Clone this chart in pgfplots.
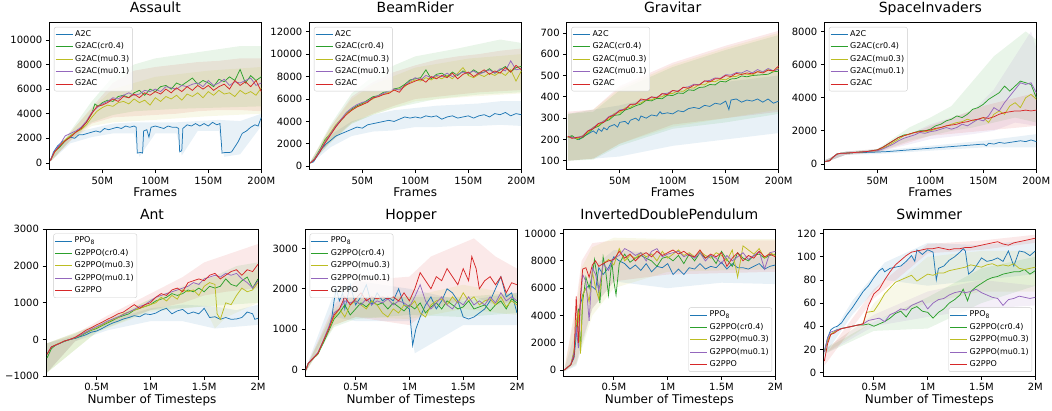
\documentclass[border=0pt]{standalone}
\usepackage{pgfplots}
\pgfplotsset{compat=1.18}
\usepackage{fontspec}
\setmainfont{DejaVu Sans}

\definecolor{c0}{HTML}{1F77B4}
\definecolor{c2}{HTML}{2CA02C}
\definecolor{c8}{HTML}{BCBD22}
\definecolor{c4}{HTML}{9467BD}
\definecolor{c3}{HTML}{D62728}

\pgfplotsset{
  panel/.style={
    scale only axis, width=212pt, height=147pt, anchor=north west,
    axis line style={line width=0.8pt},
    every tick/.style={black, line width=0.8pt},
    major tick length=3.5pt, tick align=outside, tick pos=left,
    ticklabel style={font=\fontsize{10}{12}\selectfont},
    /pgf/number format/assume math mode=true,
    /pgf/number format/1000 sep={},
    scaled ticks=false,
    title style={at={(0.5,1)}, anchor=base, yshift=4pt, font=\fontsize{14}{16}\selectfont},
    xlabel style={at={(axis description cs:0.5,0)}, anchor=base, yshift=-27pt, font=\fontsize{12}{14}\selectfont},
    legend cell align=left,
    legend style={font=\fontsize{8}{9}\selectfont, draw=black!20, rounded corners=2pt,
      fill=white, fill opacity=0.8, text opacity=1, inner sep=1pt, row sep=0pt,
      nodes={text height=6pt, text depth=2pt, inner sep=2.2pt}},
    legend image code/.code={\draw[#1] (0pt,0pt) -- (17pt,0pt);},
    every axis plot/.append style={line width=0.75pt},
  },
  toprow/.style={panel, xmin=0, xmax=200, xtick={50,100,150,200},
    xticklabels={50M,100M,150M,200M}, xlabel={Frames},
    legend style={at={(0.022,0.971)}, anchor=north west}},
  botrow/.style={panel, xmin=0.03, xmax=2, xtick={0.5,1,1.5,2},
    xticklabels={0.5M,1M,1.5M,2M}, xlabel={Number of Timesteps}},
  band/.style={draw=none, fill=#1, fill opacity=0.1, forget plot},
}

\begin{document}
\begin{tikzpicture}
\path[use as bounding box] (0pt,0pt) rectangle (1052pt,-411pt);

% ---------------- Assault
\begin{axis}[toprow, at={(49.3pt,-22.7pt)}, title={Assault},
  ymin=-550, ymax=11400, ytick={0,2000,...,10000}]
\addplot[band=c0] coordinates {(1,300)(20,2400)(40,2800)(60,3200)(80,3300)(100,3300)(120,3300)(140,3400)(160,3500)(180,3400)(200,4000)
  (200,3000)(180,700)(165,500)(160,2600)(140,2600)(125,600)(120,2400)(100,2400)(85,500)(80,2400)(60,2400)(40,2100)(20,1600)(1,100)};
\addplot[band=c3] coordinates {(1,300)(20,2500)(40,4500)(60,6500)(80,7500)(100,7800)(120,8000)(140,8200)(160,8300)(180,8500)(200,8500)
  (200,4200)(180,4300)(160,4300)(140,4200)(120,4000)(100,3900)(80,3800)(60,3700)(40,3200)(20,1800)(1,100)};
\addplot[band=c2] coordinates {(1,300)(20,2600)(40,5000)(60,7000)(80,8000)(100,8500)(140,9000)(180,9500)(200,9500)
  (200,4600)(160,4500)(120,4400)(80,4200)(60,3900)(40,3300)(20,1900)(1,100)};
\addplot[band=c8] coordinates {(1,300)(20,2500)(40,4400)(60,6000)(100,7000)(150,7500)(200,7800)
  (200,4000)(150,3800)(100,3500)(60,3300)(40,3000)(20,1800)(1,100)};
\addplot[c0] coordinates {(1,200)(4,900)(8,1400)(12,1700)(16,1900)(20,2100)(24,2000)(28,2300)(32,2300)(36,2400)(40,2500)(44,2600)(48,2500)(52,2800)(56,2700)(60,2800)(64,2900)(68,2800)(72,3000)(76,2900)(80,3000)(82,2900)(83,800)(86,850)(88,800)(89,2600)(92,2700)(94,2100)(96,2900)(100,3000)(104,2900)(108,2800)(112,3000)(116,2900)(120,2900)(122,2800)(123,900)(125,1000)(126,2800)(130,3100)(134,3000)(138,3200)(142,3000)(146,3200)(150,3000)(154,3300)(158,3100)(161,3200)(163,800)(166,850)(170,850)(172,900)(175,1300)(178,1700)(182,2400)(186,2600)(190,2900)(194,3100)(197,3000)(200,3700)};
\addplot[c2] coordinates {(1,200)(5,900)(10,1300)(15,1800)(20,2200)(25,2500)(30,2800)(35,3300)(40,4000)(43,4800)(46,4600)(50,4900)(55,5100)(60,5000)(65,5400)(70,5500)(75,5300)(80,5700)(85,5900)(90,5500)(95,6000)(100,5800)(105,6200)(110,6300)(115,6000)(120,6500)(125,6300)(130,6600)(135,6900)(140,6400)(145,6700)(150,6500)(155,6200)(160,6800)(165,6600)(170,7000)(175,6700)(180,7600)(185,6500)(190,7100)(195,6700)(200,7000)};
\addplot[c8] coordinates {(1,200)(5,850)(10,1400)(15,1900)(20,2200)(25,2500)(30,2700)(35,3100)(40,3700)(45,4200)(50,4500)(55,4700)(60,4600)(65,4900)(70,5000)(75,4800)(80,5200)(85,4900)(90,5100)(95,4700)(100,5300)(105,5000)(110,5400)(115,5200)(120,5500)(125,5100)(130,5600)(135,5400)(140,5700)(145,5300)(150,5800)(155,5500)(160,5900)(165,5600)(170,5700)(175,5400)(180,5900)(185,5600)(190,5800)(195,5500)(200,6100)};
\addplot[c4] coordinates {(1,200)(5,950)(10,1500)(15,2200)(20,2400)(25,2600)(30,2900)(35,3400)(40,4100)(45,4500)(50,4800)(55,5000)(60,5300)(65,5200)(70,5500)(75,5700)(80,5500)(85,5600)(90,5900)(95,5800)(100,6000)(105,5800)(110,6200)(115,6100)(120,6000)(125,6300)(130,6200)(135,6400)(140,6500)(145,6200)(150,6700)(155,6300)(160,6500)(165,6800)(170,6300)(175,6600)(180,6500)(185,6700)(190,6900)(195,6300)(200,6500)};
\addplot[c3] coordinates {(1,200)(5,900)(10,1400)(15,1800)(20,2100)(25,2500)(30,2800)(35,3300)(40,4000)(45,4600)(50,4700)(55,4900)(60,5200)(65,5000)(70,5400)(75,5300)(80,5600)(85,5300)(90,5700)(95,5500)(100,5800)(105,5600)(110,6000)(115,5700)(120,6100)(125,5800)(130,6200)(135,5900)(140,6300)(145,6000)(150,6300)(155,5900)(160,6200)(165,6400)(170,6000)(175,6700)(180,6300)(185,6600)(190,6200)(195,6700)(200,5800)};
\legend{A2C,G2AC(cr0.4),G2AC(mu0.3),G2AC(mu0.1),G2AC}
\end{axis}

% ---------------- BeamRider
\begin{axis}[toprow, at={(309.3pt,-22.7pt)}, title={BeamRider},
  ymin=-300, ymax=12800, ytick={0,2000,...,12000}]
\addplot[band=c0] coordinates {(1,400)(20,2800)(40,4000)(60,4600)(80,5000)(100,5200)(120,5400)(140,5500)(160,5600)(180,5800)(200,5800)
  (200,3600)(180,3700)(160,3600)(140,3600)(120,3500)(100,3500)(80,3200)(60,3100)(40,2700)(20,1700)(1,200)};
\addplot[band=c3] coordinates {(1,400)(20,3500)(40,6200)(60,7500)(80,8400)(100,9000)(120,9500)(140,9800)(160,10000)(180,10300)(200,10500)
  (200,6800)(180,6700)(160,6600)(140,6400)(120,6200)(100,6000)(80,5400)(60,4700)(40,3900)(20,2200)(1,200)};
\addplot[band=c2] coordinates {(1,400)(20,3700)(40,6500)(60,8000)(80,9000)(100,9800)(140,10500)(180,11300)(200,11000)
  (200,6600)(160,6400)(120,6000)(80,5200)(60,4600)(40,3800)(20,2100)(1,200)};
\addplot[band=c8] coordinates {(1,400)(20,3500)(40,6000)(60,7300)(100,8800)(150,9600)(200,10000)
  (200,6500)(150,6200)(100,5800)(60,4600)(40,3800)(20,2200)(1,200)};
\addplot[c0] coordinates {(1,300)(4,400)(8,1000)(12,1600)(16,2000)(20,2300)(25,2700)(30,2900)(35,3100)(40,3300)(45,3500)(50,3400)(55,3700)(60,3800)(65,3900)(70,4000)(75,4100)(80,4000)(85,4200)(90,4400)(95,4300)(100,4400)(105,4300)(110,4500)(115,4400)(120,4500)(125,4200)(130,4400)(135,4500)(140,4300)(145,4400)(150,4500)(155,4300)(160,4500)(165,4600)(170,4400)(175,4700)(180,4600)(185,4800)(190,4500)(195,4700)(200,4600)};
\addplot[c2] coordinates {(1,300)(5,700)(10,1500)(15,2400)(20,2900)(25,3600)(30,4100)(35,4700)(40,5100)(45,5400)(50,5600)(55,5900)(60,6200)(65,6300)(70,6600)(75,6700)(80,6900)(85,7000)(90,7300)(95,7700)(100,7800)(105,7900)(110,8600)(115,7800)(120,8200)(125,8300)(130,8000)(135,8400)(140,8100)(145,8500)(150,8200)(155,8600)(160,8300)(165,8400)(170,8700)(175,8300)(180,8600)(185,8900)(190,8400)(195,8800)(200,8900)};
\addplot[c8] coordinates {(1,300)(5,650)(10,1400)(15,2300)(20,3000)(25,3700)(30,4200)(35,4700)(40,5000)(45,5300)(50,5500)(55,5800)(60,6000)(65,6300)(70,6400)(75,6600)(80,6800)(85,6900)(90,7100)(95,7500)(100,7700)(105,7600)(110,7900)(115,7700)(120,8000)(125,7800)(130,8100)(135,7800)(140,8300)(145,8800)(150,8100)(155,7900)(160,8200)(165,8000)(170,8300)(175,8100)(180,8400)(185,8100)(190,8600)(195,7600)(200,8500)};
\addplot[c4] coordinates {(1,300)(5,650)(10,1400)(15,2200)(20,2900)(25,3600)(30,4200)(35,4800)(40,5200)(45,5500)(50,5700)(55,5800)(60,6100)(65,6300)(70,6500)(75,6700)(80,6900)(85,6800)(90,7200)(95,7600)(100,7900)(105,7700)(110,8100)(115,7900)(120,8100)(125,8000)(130,8300)(135,8000)(140,8200)(145,8400)(150,8300)(155,8500)(160,8200)(165,8400)(170,8600)(175,8300)(180,8700)(185,8500)(190,9400)(195,8600)(200,8700)};
\addplot[c3] coordinates {(1,300)(5,600)(10,1300)(15,2100)(20,2800)(25,3500)(30,4100)(35,4600)(40,5000)(45,5300)(50,5500)(55,5700)(60,6100)(65,6200)(70,6400)(75,6500)(80,6800)(85,6600)(90,7200)(95,7400)(100,7600)(105,7800)(110,7500)(115,8000)(120,7800)(125,8100)(130,7900)(135,8300)(140,7800)(145,8200)(150,8400)(155,8000)(160,8300)(165,8600)(170,8200)(175,8500)(180,8300)(185,8800)(190,8400)(195,9000)(200,8600)};
\legend{A2C,G2AC(cr0.4),G2AC(mu0.3),G2AC(mu0.1),G2AC}
\end{axis}

% ---------------- Gravitar
\begin{axis}[toprow, at={(566.7pt,-22.7pt)}, title={Gravitar},
  ymin=58, ymax=748, ytick={100,200,...,700}]
\addplot[band=c0] coordinates {(1,320)(50,360)(100,420)(150,470)(200,500)
  (200,230)(150,200)(100,170)(50,120)(1,100)};
\addplot[band=c3] coordinates {(1,330)(25,340)(50,450)(100,560)(150,640)(200,710)
  (200,330)(150,300)(100,270)(50,180)(25,110)(1,100)};
\addplot[band=c2] coordinates {(1,320)(25,330)(50,430)(100,540)(150,620)(200,690)
  (200,320)(150,280)(100,250)(50,170)(25,105)(1,100)};
\addplot[band=c8] coordinates {(1,320)(25,340)(50,440)(100,550)(150,630)(200,700)
  (200,340)(150,300)(100,260)(50,180)(25,110)(1,100)};
\addplot[c0] coordinates {(1,210)(4,215)(8,205)(12,200)(16,215)(20,225)(25,240)(28,228)(30,250)(33,238)(35,255)(38,245)(40,260)(45,270)(48,258)(50,280)(55,285)(58,272)(60,290)(65,300)(68,288)(70,310)(75,300)(80,315)(85,310)(88,330)(90,320)(95,325)(100,320)(105,335)(110,330)(115,345)(120,350)(125,345)(130,360)(135,355)(140,370)(145,365)(150,380)(153,340)(155,385)(160,390)(165,375)(170,385)(175,380)(180,390)(185,375)(190,390)(195,370)(200,380)};
\addplot[c2] coordinates {(1,210)(5,218)(10,200)(15,208)(20,228)(25,252)(30,262)(35,283)(40,292)(45,313)(50,316)(55,338)(60,346)(65,358)(70,366)(75,384)(80,381)(85,393)(90,391)(95,408)(100,406)(105,418)(110,416)(115,433)(120,430)(125,444)(130,446)(135,458)(140,456)(145,473)(150,470)(155,484)(160,486)(165,498)(170,494)(175,500)(180,502)(185,504)(190,506)(195,518)(200,520)};
\addplot[c8] coordinates {(1,210)(5,212)(10,204)(15,218)(20,232)(25,258)(30,266)(35,288)(40,296)(45,323)(50,326)(55,348)(60,351)(65,368)(70,371)(75,388)(80,386)(85,398)(90,401)(95,414)(100,416)(105,428)(110,426)(115,443)(120,441)(125,458)(130,456)(135,473)(140,471)(145,483)(150,480)(155,494)(160,496)(165,508)(170,506)(175,502)(180,518)(185,516)(190,528)(195,518)(200,535)};
\addplot[c4] coordinates {(1,215)(5,208)(10,210)(15,216)(20,240)(25,255)(30,275)(35,285)(40,308)(45,318)(50,338)(55,342)(60,364)(65,367)(70,384)(75,387)(80,399)(85,397)(90,414)(95,417)(100,429)(105,427)(110,444)(115,447)(120,459)(125,457)(130,474)(135,477)(140,489)(145,487)(150,504)(155,502)(160,514)(165,512)(170,524)(175,512)(180,528)(185,517)(190,533)(195,522)(200,530)};
\addplot[c3] coordinates {(1,215)(5,205)(10,210)(15,212)(20,240)(25,250)(30,275)(35,280)(40,305)(45,315)(50,335)(55,340)(60,365)(65,365)(70,390)(75,385)(80,400)(85,395)(90,415)(95,410)(100,430)(105,425)(110,445)(115,440)(120,455)(125,455)(130,475)(135,470)(140,485)(145,485)(150,500)(155,495)(160,510)(165,505)(170,512)(175,508)(180,518)(185,512)(190,525)(195,522)(200,545)};
\legend{A2C,G2AC(cr0.4),G2AC(mu0.3),G2AC(mu0.1),G2AC}
\end{axis}

% ---------------- SpaceInvaders
\begin{axis}[toprow, at={(824.3pt,-22.7pt)}, title={SpaceInvaders},
  ymin=-345, ymax=8525, ytick={0,2000,...,8000}]
\addplot[band=c0] coordinates {(1,250)(20,750)(50,800)(100,1100)(150,1400)(200,1800)
  (200,1000)(150,1000)(100,800)(50,600)(20,550)(1,100)};
\addplot[band=c2] coordinates {(1,250)(20,750)(50,900)(80,2200)(100,2800)(120,3500)(140,5000)(160,6500)(180,7500)(190,8000)(200,7500)
  (200,2500)(180,2800)(160,2500)(140,2200)(120,2000)(100,1700)(80,1400)(50,700)(20,550)(1,100)};
\addplot[band=c4] coordinates {(1,250)(20,750)(50,900)(100,2400)(140,3200)(160,4500)(180,6500)(195,8000)(200,7000)
  (200,2300)(180,2500)(160,2000)(140,1800)(100,1500)(50,700)(20,550)(1,100)};
\addplot[band=c3] coordinates {(1,250)(20,750)(50,900)(100,2300)(150,3500)(200,4300)
  (200,2300)(150,2000)(100,1700)(50,700)(20,550)(1,100)};
\addplot[c0] coordinates {(1,150)(5,200)(8,400)(12,600)(16,650)(20,650)(30,700)(40,700)(50,720)(60,750)(70,800)(80,850)(90,900)(100,950)(110,1000)(120,1050)(130,1100)(140,1150)(150,1200)(153,1100)(155,1250)(160,1200)(165,1300)(170,1250)(175,1300)(180,1350)(185,1400)(190,1350)(195,1450)(200,1350)};
\addplot[c2] coordinates {(1,150)(5,200)(8,400)(12,600)(16,650)(20,650)(30,700)(40,750)(50,850)(55,1000)(60,1200)(65,1400)(70,1600)(75,1750)(80,1800)(85,1900)(90,2000)(95,2000)(100,2100)(105,2300)(110,2400)(115,2600)(120,2700)(125,2900)(130,2800)(135,3000)(140,3300)(145,3400)(150,3600)(155,3900)(160,4100)(165,4300)(170,4700)(175,4400)(180,4700)(185,5000)(190,4900)(195,4800)(200,4000)};
\addplot[c8] coordinates {(1,150)(5,200)(8,400)(12,600)(16,650)(20,650)(30,700)(40,750)(50,800)(55,950)(60,1100)(65,1300)(70,1500)(75,1700)(80,1800)(85,1900)(90,1950)(95,1950)(100,2000)(105,2100)(110,2200)(115,2300)(120,2400)(125,2500)(130,2550)(135,2700)(140,2600)(145,2700)(150,2800)(155,2500)(160,3000)(165,3200)(170,3000)(175,3500)(180,3700)(185,3400)(190,4000)(195,4200)(200,3900)};
\addplot[c4] coordinates {(1,150)(5,200)(8,400)(12,600)(16,650)(20,650)(30,700)(40,750)(50,800)(55,900)(60,1050)(65,1200)(70,1400)(75,1550)(80,1650)(85,1750)(90,1900)(95,1850)(100,1950)(105,2000)(110,2100)(115,2200)(120,2100)(125,2200)(130,2400)(135,2300)(140,2500)(145,2700)(150,2600)(155,2900)(160,3400)(165,3200)(170,3700)(175,4100)(180,4500)(185,4900)(190,4800)(195,4900)(200,4300)};
\addplot[c3] coordinates {(1,150)(5,200)(8,400)(12,600)(16,650)(20,650)(30,700)(40,750)(50,850)(55,1000)(60,1200)(65,1400)(70,1600)(75,1700)(80,1800)(85,1900)(90,1950)(95,2000)(100,2050)(105,2150)(110,2200)(115,2300)(120,2350)(125,2400)(130,2500)(135,2550)(140,2650)(145,2700)(150,2800)(155,2750)(160,2850)(165,3000)(170,3100)(175,3150)(180,3200)(185,3200)(190,3250)(195,3200)(200,3250)};
\legend{A2C,G2AC(cr0.4),G2AC(mu0.3),G2AC(mu0.1),G2AC}
\end{axis}

% ---------------- Ant
\begin{axis}[botrow, at={(46pt,-229.3pt)}, title={Ant},
  ymin=-1000, ymax=3000, ytick={-1000,0,1000,2000,3000},
  yticklabels={−1000,0,1000,2000,3000},
  legend style={at={(0.035,0.971)}, anchor=north west}]
\addplot[band=c0] coordinates {(0.04,-100)(0.3,100)(0.6,500)(1.0,850)(1.3,950)(1.6,900)(1.8,800)(2.0,950)
  (2.0,400)(1.8,350)(1.6,300)(1.3,500)(1.0,500)(0.6,250)(0.3,-50)(0.04,-900)};
\addplot[band=c3] coordinates {(0.04,-100)(0.3,150)(0.6,650)(1.0,1250)(1.3,1700)(1.5,2100)(1.7,2300)(1.9,2500)(2.0,2600)
  (2.0,1400)(1.7,1300)(1.5,1200)(1.3,1000)(1.0,800)(0.6,400)(0.3,-50)(0.04,-900)};
\addplot[band=c2] coordinates {(0.04,-100)(0.5,400)(1.0,1100)(1.5,1600)(1.8,2000)(2.0,2100)
  (2.0,1000)(1.5,900)(1.0,800)(0.5,200)(0.04,-900)};
\addplot[band=c8] coordinates {(0.04,-100)(0.5,400)(1.0,1100)(1.5,1700)(1.7,1700)(2.0,1900)
  (2.0,1000)(1.7,600)(1.6,300)(1.5,900)(1.0,750)(0.5,200)(0.04,-900)};
\addplot[c0] coordinates {(0.04,-400)(0.08,-200)(0.12,-150)(0.16,-100)(0.2,-50)(0.25,0)(0.3,30)(0.35,80)(0.4,130)(0.45,200)(0.5,230)(0.55,300)(0.6,380)(0.65,450)(0.7,500)(0.75,560)(0.8,600)(0.85,650)(0.9,620)(0.95,700)(1.0,680)(1.05,720)(1.1,800)(1.15,850)(1.2,700)(1.25,780)(1.3,820)(1.35,700)(1.4,750)(1.45,700)(1.5,850)(1.55,600)(1.6,620)(1.65,550)(1.7,600)(1.75,550)(1.8,560)(1.85,600)(1.9,750)(1.95,700)(1.97,550)(2.0,580)};
\addplot[c2] coordinates {(0.04,-500)(0.08,-250)(0.12,-150)(0.16,-100)(0.2,-50)(0.25,0)(0.3,40)(0.35,100)(0.4,180)(0.45,250)(0.5,300)(0.55,380)(0.6,450)(0.65,520)(0.7,600)(0.75,650)(0.8,700)(0.85,800)(0.9,850)(0.95,900)(1.0,950)(1.05,1050)(1.1,1100)(1.15,1150)(1.2,1250)(1.25,1200)(1.3,1250)(1.35,1350)(1.4,1300)(1.45,1400)(1.5,1300)(1.55,1450)(1.6,1400)(1.65,1450)(1.7,1650)(1.75,1500)(1.8,1450)(1.85,1600)(1.9,1700)(1.95,1400)(2.0,1650)};
\addplot[c8] coordinates {(0.04,-400)(0.08,-200)(0.12,-140)(0.16,-90)(0.2,-40)(0.25,0)(0.3,50)(0.35,110)(0.4,200)(0.45,260)(0.5,320)(0.55,400)(0.6,470)(0.65,540)(0.7,600)(0.75,700)(0.8,750)(0.85,800)(0.9,850)(0.95,900)(1.0,950)(1.05,1000)(1.1,1150)(1.15,1050)(1.2,1200)(1.25,1100)(1.3,1350)(1.35,1300)(1.4,1350)(1.45,1200)(1.5,1450)(1.55,1550)(1.6,1500)(1.62,700)(1.65,550)(1.7,1000)(1.75,950)(1.8,1200)(1.85,1400)(1.9,1300)(1.95,1350)(2.0,1550)};
\addplot[c4] coordinates {(0.04,-400)(0.08,-200)(0.12,-150)(0.16,-100)(0.2,-40)(0.25,0)(0.3,50)(0.35,120)(0.4,200)(0.45,280)(0.5,350)(0.55,420)(0.6,500)(0.65,560)(0.7,620)(0.75,680)(0.8,750)(0.85,820)(0.9,900)(0.95,950)(1.0,1050)(1.05,1150)(1.1,1200)(1.15,1250)(1.2,1300)(1.25,1350)(1.3,1400)(1.35,1450)(1.4,1550)(1.45,1500)(1.5,1650)(1.55,1700)(1.6,1750)(1.65,1700)(1.7,1800)(1.75,1750)(1.8,1800)(1.85,1650)(1.9,1550)(1.95,1400)(2.0,1600)};
\addplot[c3] coordinates {(0.04,-400)(0.08,-200)(0.12,-150)(0.16,-100)(0.2,-40)(0.25,0)(0.3,60)(0.35,150)(0.4,250)(0.45,320)(0.5,400)(0.55,470)(0.6,550)(0.65,620)(0.7,700)(0.75,750)(0.8,850)(0.85,950)(0.9,850)(0.95,950)(1.0,1000)(1.05,1150)(1.1,1250)(1.15,1200)(1.2,1350)(1.25,1400)(1.3,1300)(1.35,1550)(1.4,1600)(1.45,1650)(1.5,1600)(1.55,1750)(1.6,1800)(1.65,1650)(1.7,1750)(1.75,1850)(1.8,1900)(1.85,1750)(1.9,1900)(1.95,1850)(2.0,2050)};
\legend{PPO\textsubscript{8},G2PPO(cr0.4),G2PPO(mu0.3),G2PPO(mu0.1),G2PPO}
\end{axis}

% ---------------- Hopper
\begin{axis}[botrow, at={(305pt,-229.3pt)}, title={Hopper},
  ymin=-170, ymax=3475, ytick={0,1000,2000,3000},
  legend style={at={(0.022,0.971)}, anchor=north west}]
\addplot[band=c0] coordinates {(0.04,50)(0.3,1900)(0.5,2200)(1.0,2000)(1.5,1700)(2.0,1900)
  (2.0,1100)(1.5,1100)(1.05,400)(1.0,1200)(0.5,1200)(0.3,1300)(0.04,-50)};
\addplot[band=c3] coordinates {(0.04,50)(0.3,1600)(0.5,2200)(1.0,2300)(1.2,2800)(1.6,3250)(1.8,2800)(2.0,2500)
  (2.0,1700)(1.8,1600)(1.6,1800)(1.2,1500)(1.0,1100)(0.5,1300)(0.3,1100)(0.04,-50)};
\addplot[band=c2] coordinates {(0.04,50)(0.3,1450)(0.5,1750)(1.0,1800)(1.5,1800)(2.0,1900)
  (2.0,1400)(1.5,1300)(1.0,1350)(0.5,1250)(0.3,1050)(0.04,-50)};
\addplot[band=c8] coordinates {(0.04,50)(0.3,1500)(0.5,1900)(1.0,1800)(1.5,2100)(2.0,1850)
  (2.0,1350)(1.5,1500)(1.0,1250)(0.5,1300)(0.3,1100)(0.04,-50)};
\addplot[c0] coordinates {(0.04,0)(0.06,150)(0.1,250)(0.15,400)(0.2,700)(0.25,1000)(0.28,1300)(0.3,1700)(0.32,2000)(0.35,1700)(0.38,1900)(0.4,1500)(0.45,2100)(0.5,1600)(0.55,1800)(0.6,2100)(0.65,1600)(0.7,1900)(0.75,1700)(0.8,1800)(0.85,1700)(0.9,2000)(0.95,1600)(1.0,1500)(1.03,600)(1.06,1000)(1.1,1300)(1.15,1600)(1.2,1800)(1.25,1500)(1.3,1700)(1.35,2000)(1.4,1900)(1.45,1700)(1.5,1300)(1.55,1250)(1.6,1300)(1.65,1400)(1.7,1500)(1.75,1700)(1.8,2000)(1.85,2300)(1.9,1800)(1.95,1900)(2.0,1400)};
\addplot[c2] coordinates {(0.04,0)(0.06,150)(0.1,250)(0.15,380)(0.2,650)(0.25,950)(0.3,1250)(0.35,1400)(0.4,1600)(0.45,1350)(0.5,1500)(0.55,1650)(0.6,1550)(0.65,1700)(0.7,1600)(0.75,1650)(0.8,1500)(0.85,1650)(0.9,1550)(0.95,1450)(1.0,1600)(1.05,1500)(1.1,1650)(1.15,1400)(1.2,1550)(1.25,1650)(1.3,1500)(1.35,1700)(1.4,1600)(1.45,1500)(1.5,1550)(1.55,1700)(1.6,1500)(1.65,1550)(1.7,1600)(1.75,1450)(1.8,1600)(1.85,1700)(1.9,1500)(1.95,1750)(2.0,1650)};
\addplot[c8] coordinates {(0.04,0)(0.06,150)(0.1,260)(0.15,400)(0.2,700)(0.25,1000)(0.3,1300)(0.35,1500)(0.4,1300)(0.45,1600)(0.5,1700)(0.55,1600)(0.6,1500)(0.65,1700)(0.7,1600)(0.75,1400)(0.8,1300)(0.85,1500)(0.9,1400)(0.95,1600)(1.0,1550)(1.05,1700)(1.1,1400)(1.15,1300)(1.2,1600)(1.25,1700)(1.3,1750)(1.35,1600)(1.4,1800)(1.45,1650)(1.5,1900)(1.55,1700)(1.6,1800)(1.65,1600)(1.7,1700)(1.75,1750)(1.8,1600)(1.85,1800)(1.9,1550)(1.95,1700)(2.0,1600)};
\addplot[c4] coordinates {(0.04,0)(0.06,150)(0.1,270)(0.15,420)(0.2,720)(0.25,1050)(0.3,1400)(0.35,1500)(0.4,1700)(0.45,1650)(0.5,1700)(0.55,1600)(0.6,1750)(0.65,1600)(0.7,1700)(0.75,1650)(0.8,1750)(0.85,1600)(0.9,1700)(0.95,1650)(1.0,1550)(1.05,1800)(1.1,2100)(1.15,1700)(1.2,1500)(1.25,1650)(1.3,1800)(1.35,1600)(1.4,1500)(1.45,1700)(1.5,1600)(1.55,1800)(1.6,1600)(1.65,1700)(1.7,1600)(1.75,1800)(1.8,1650)(1.85,1900)(1.9,1700)(1.95,1800)(2.0,1700)};
\addplot[c3] coordinates {(0.04,0)(0.06,150)(0.1,260)(0.15,400)(0.2,700)(0.25,1000)(0.3,1350)(0.35,1500)(0.4,1800)(0.45,1600)(0.5,1750)(0.55,1900)(0.6,1700)(0.65,1800)(0.7,1750)(0.75,1800)(0.8,1750)(0.85,1800)(0.9,1700)(0.95,1900)(1.0,1700)(1.05,2000)(1.1,2400)(1.15,2200)(1.2,2000)(1.25,2300)(1.3,2200)(1.35,2500)(1.4,2300)(1.45,2100)(1.5,2500)(1.55,2200)(1.58,2800)(1.62,2500)(1.65,2000)(1.7,2200)(1.75,2300)(1.8,2100)(1.85,2300)(1.9,1900)(1.95,2150)(2.0,2100)};
\legend{PPO\textsubscript{8},G2PPO(cr0.4),G2PPO(mu0.3),G2PPO(mu0.1),G2PPO}
\end{axis}

% ---------------- InvertedDoublePendulum
\begin{axis}[botrow, at={(563.3pt,-229.3pt)}, title={InvertedDoublePendulum},
  ymin=-460, ymax=10315, ytick={0,2000,...,10000},
  legend style={at={(0.985,0.03)}, anchor=south east}]
\addplot[band=c0] coordinates {(0.04,100)(0.15,3000)(0.3,7500)(0.5,8800)(1.0,8500)(1.5,8400)(2.0,8300)
  (2.0,6300)(1.5,6400)(1.0,6000)(0.5,6500)(0.3,4500)(0.15,300)(0.04,-100)};
\addplot[band=c3] coordinates {(0.04,100)(0.15,5000)(0.2,8000)(0.3,9300)(0.5,9500)(1.0,9500)(1.5,9500)(2.0,9500)
  (2.0,7200)(1.0,7000)(0.5,6500)(0.3,4500)(0.2,2000)(0.15,500)(0.04,-100)};
\addplot[band=c8] coordinates {(0.04,100)(0.15,4500)(0.2,7500)(0.3,9000)(0.5,9700)(1.0,9600)(1.5,9600)(2.0,9600)
  (2.0,7400)(1.0,7200)(0.5,6000)(0.3,4000)(0.2,1500)(0.15,400)(0.04,-100)};
\addplot[c0] coordinates {(0.04,0)(0.07,200)(0.1,400)(0.13,900)(0.15,2500)(0.17,4000)(0.19,4800)(0.21,5500)(0.24,6000)(0.27,6200)(0.3,6100)(0.33,5900)(0.36,7500)(0.4,7000)(0.45,7500)(0.5,8300)(0.55,8000)(0.6,7800)(0.65,7400)(0.7,7700)(0.75,7300)(0.8,7800)(0.85,7200)(0.9,7600)(0.95,7500)(1.0,7800)(1.05,7000)(1.1,7400)(1.15,7000)(1.2,7500)(1.25,7400)(1.3,7800)(1.35,7400)(1.4,7600)(1.45,7500)(1.5,7900)(1.55,7400)(1.6,7800)(1.65,7500)(1.7,7500)(1.75,7400)(1.8,7600)(1.85,7800)(1.9,7400)(1.95,7600)(2.0,7700)};
\addplot[c2] coordinates {(0.04,0)(0.07,200)(0.1,400)(0.13,1200)(0.15,3000)(0.17,4500)(0.19,1500)(0.21,5000)(0.24,6800)(0.27,6000)(0.3,7000)(0.32,8100)(0.35,6500)(0.37,4900)(0.4,8300)(0.42,7500)(0.45,5500)(0.48,8000)(0.5,6500)(0.52,5500)(0.55,7800)(0.6,8500)(0.65,7900)(0.7,8200)(0.75,8400)(0.8,8200)(0.85,8000)(0.9,7600)(0.95,8200)(1.0,8300)(1.05,8000)(1.1,8400)(1.15,7800)(1.2,8500)(1.25,8000)(1.3,8600)(1.35,8200)(1.4,8400)(1.45,7800)(1.5,8700)(1.55,8100)(1.6,7600)(1.65,8600)(1.7,8200)(1.75,8000)(1.8,8400)(1.85,8500)(1.9,8200)(1.95,8400)(2.0,8500)};
\addplot[c8] coordinates {(0.04,0)(0.07,200)(0.1,400)(0.13,1500)(0.15,3500)(0.17,4200)(0.19,1200)(0.21,5500)(0.24,6000)(0.27,5000)(0.3,7200)(0.33,6000)(0.36,5200)(0.4,7800)(0.45,8100)(0.5,7700)(0.55,8900)(0.6,8000)(0.65,8400)(0.7,8200)(0.75,8600)(0.8,8300)(0.85,8500)(0.9,8000)(0.95,8700)(1.0,8200)(1.05,8500)(1.1,8800)(1.15,8400)(1.2,8600)(1.25,8300)(1.3,8700)(1.35,8400)(1.4,8200)(1.45,8600)(1.5,8400)(1.55,8000)(1.6,8800)(1.65,6800)(1.7,9100)(1.75,8800)(1.8,8500)(1.85,8900)(1.9,8200)(1.95,8600)(2.0,8400)};
\addplot[c4] coordinates {(0.04,0)(0.07,200)(0.1,400)(0.13,1300)(0.15,3200)(0.17,1600)(0.19,5000)(0.21,7000)(0.24,6500)(0.27,3600)(0.3,7500)(0.33,7000)(0.36,5800)(0.4,7800)(0.45,7300)(0.5,8200)(0.55,8400)(0.6,8900)(0.65,8700)(0.7,8400)(0.75,8600)(0.8,8000)(0.85,8700)(0.9,8900)(0.95,8300)(1.0,8500)(1.05,8600)(1.1,8700)(1.15,8300)(1.2,8500)(1.25,8200)(1.3,8600)(1.35,8000)(1.4,8400)(1.45,8200)(1.5,7800)(1.55,8400)(1.6,8000)(1.65,8300)(1.7,8600)(1.75,8100)(1.8,8400)(1.85,8700)(1.9,7400)(1.95,8600)(2.0,8700)};
\addplot[c3] coordinates {(0.04,0)(0.07,200)(0.1,400)(0.13,1000)(0.15,5400)(0.17,2000)(0.19,5500)(0.21,7400)(0.24,7500)(0.27,6800)(0.3,7700)(0.33,8000)(0.36,7600)(0.4,7800)(0.45,8000)(0.5,8100)(0.55,8700)(0.6,8200)(0.65,8500)(0.7,8000)(0.75,8400)(0.8,8600)(0.85,8300)(0.9,8700)(0.95,8400)(1.0,8600)(1.05,8800)(1.1,8500)(1.15,8700)(1.2,8400)(1.25,8300)(1.3,8800)(1.35,8200)(1.4,8500)(1.45,8300)(1.5,8600)(1.55,7600)(1.6,8200)(1.65,8600)(1.7,8000)(1.75,8400)(1.8,8200)(1.85,8700)(1.9,8300)(1.95,8500)(2.0,8300)};
\legend{PPO\textsubscript{8},G2PPO(cr0.4),G2PPO(mu0.3),G2PPO(mu0.1),G2PPO}
\end{axis}

% ---------------- Swimmer
\begin{axis}[botrow, at={(823.3pt,-229.3pt)}, title={Swimmer},
  ymin=-3.2, ymax=123.7, ytick={0,20,...,120},
  legend style={at={(0.985,0.03)}, anchor=south east}]
\addplot[band=c0] coordinates {(0.04,22)(0.3,62)(0.6,95)(1.0,112)(1.5,110)(2.0,115)
  (2.0,85)(1.5,80)(1.0,75)(0.6,80)(0.3,50)(0.04,15)};
\addplot[band=c8] coordinates {(0.04,20)(0.4,44)(0.5,60)(1.0,100)(1.5,105)(2.0,105)
  (2.0,70)(1.5,70)(1.0,60)(0.5,45)(0.4,38)(0.04,16)};
\addplot[band=c2] coordinates {(0.04,20)(0.5,44)(1.0,65)(1.5,90)(2.0,100)
  (2.0,75)(1.5,60)(1.0,38)(0.5,36)(0.04,16)};
\addplot[band=c4] coordinates {(0.04,20)(0.5,50)(1.0,70)(1.5,80)(2.0,75)
  (2.0,58)(1.5,55)(1.0,48)(0.5,40)(0.04,16)};
\addplot[band=c3] coordinates {(0.04,14)(0.5,72)(1.0,111)(1.5,114)(2.0,119)
  (2.0,112)(1.5,106)(1.0,103)(0.5,64)(0.04,6)};
\addplot[c0] coordinates {(0.04,18)(0.07,30)(0.1,37)(0.13,39)(0.16,40)(0.2,43)(0.25,50)(0.3,56)(0.35,63)(0.4,70)(0.45,75)(0.5,82)(0.55,88)(0.58,90)(0.6,87)(0.65,90)(0.7,91)(0.75,92)(0.8,96)(0.85,101)(0.88,96)(0.9,106)(0.95,102)(1.0,106)(1.05,104)(1.08,80)(1.1,90)(1.15,92)(1.2,97)(1.25,100)(1.3,104)(1.33,107)(1.35,105)(1.38,85)(1.42,88)(1.45,92)(1.5,99)(1.55,96)(1.6,97)(1.65,99)(1.7,96)(1.75,105)(1.8,92)(1.85,105)(1.9,104)(1.95,101)(2.0,105)};
\addplot[c2] coordinates {(0.04,18)(0.07,28)(0.1,33)(0.13,35)(0.16,37)(0.2,38)(0.25,39)(0.3,40)(0.35,41)(0.4,41)(0.45,42)(0.5,40)(0.55,42)(0.6,44)(0.65,47)(0.7,51)(0.75,53)(0.8,48)(0.85,55)(0.9,57)(0.95,53)(1.0,52)(1.05,47)(1.1,52)(1.15,55)(1.2,60)(1.25,63)(1.3,67)(1.33,72)(1.37,62)(1.4,70)(1.45,74)(1.5,77)(1.55,80)(1.6,82)(1.65,83)(1.7,85)(1.75,86)(1.8,87)(1.85,87)(1.9,89)(1.95,85)(2.0,88)};
\addplot[c8] coordinates {(0.04,18)(0.07,28)(0.1,33)(0.13,35)(0.16,37)(0.2,38)(0.25,39)(0.3,40)(0.35,41)(0.4,42)(0.43,52)(0.5,53)(0.55,60)(0.6,68)(0.65,73)(0.7,78)(0.75,80)(0.8,82)(0.85,84)(0.9,79)(0.95,82)(1.0,85)(1.05,84)(1.1,86)(1.15,86)(1.2,88)(1.25,89)(1.3,90)(1.35,91)(1.4,93)(1.45,92)(1.5,91)(1.55,93)(1.6,94)(1.65,92)(1.7,93)(1.75,92)(1.8,94)(1.85,90)(1.9,89)(1.95,90)(2.0,91)};
\addplot[c4] coordinates {(0.04,18)(0.07,30)(0.1,35)(0.13,36)(0.16,37)(0.2,38)(0.25,39)(0.3,40)(0.35,41)(0.4,42)(0.45,45)(0.5,46)(0.55,47)(0.6,44)(0.65,50)(0.7,52)(0.75,55)(0.8,54)(0.85,58)(0.9,60)(0.95,62)(1.0,55)(1.05,60)(1.1,63)(1.15,64)(1.2,67)(1.25,69)(1.3,70)(1.35,69)(1.4,70)(1.45,72)(1.5,69)(1.55,67)(1.6,65)(1.65,64)(1.7,58)(1.75,63)(1.8,64)(1.85,66)(1.9,65)(1.95,64)(2.0,65)};
\addplot[c3] coordinates {(0.04,10)(0.07,25)(0.1,33)(0.13,34)(0.16,36)(0.2,38)(0.25,39)(0.3,40)(0.35,41)(0.4,42)(0.45,58)(0.5,68)(0.55,72)(0.6,80)(0.65,87)(0.7,93)(0.75,97)(0.8,101)(0.85,104)(0.9,105)(0.95,106)(1.0,107)(1.05,107)(1.1,108)(1.15,107)(1.2,106)(1.25,107)(1.3,107)(1.35,108)(1.4,108)(1.45,109)(1.5,110)(1.55,111)(1.6,112)(1.65,113)(1.7,111)(1.75,110)(1.8,112)(1.85,113)(1.9,114)(1.95,115)(2.0,116)};
\legend{PPO\textsubscript{8},G2PPO(cr0.4),G2PPO(mu0.3),G2PPO(mu0.1),G2PPO}
\end{axis}
\end{tikzpicture}
\end{document}
